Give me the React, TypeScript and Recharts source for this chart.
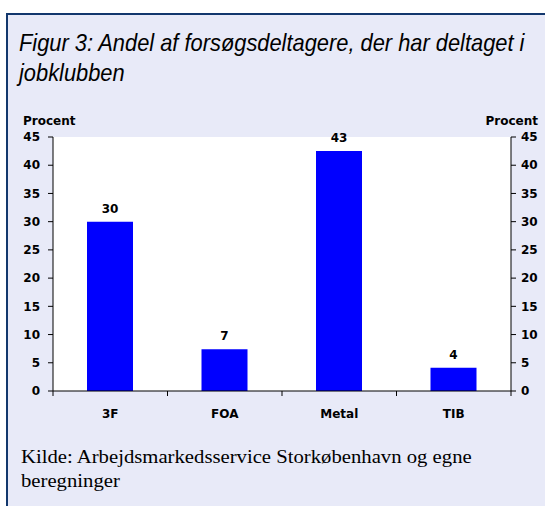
import React from 'react';
import { ComposedChart, Bar, Line, XAxis, YAxis, CartesianGrid, LabelList } from 'recharts';

const categories = ['3F', 'FOA', 'Metal', 'TIB'];
const shares = [30, 7.4, 42.5, 4.1];
const yTicks = [0, 5, 10, 15, 20, 25, 30, 35, 40, 45];

const data = categories.map((name, i) => ({ name, value: shares[i] }));

const boldFont = '"DejaVu Sans", sans-serif';
const tickStyle = { fontFamily: boldFont, fontSize: 12, fontWeight: 700, fill: '#000' };
const LABEL_GAP = 18;

// category label plus tick marks on the band edges (Excel style)
const CategoryTick = (props: any) => {
  const { x, y, payload, index, visibleTicksCount } = props;
  const half = payload.offset || 0;
  const axisY = y - LABEL_GAP;
  const isLast = index === visibleTicksCount - 1;
  return (
    <g>
      <line x1={x - half} x2={x - half} y1={axisY} y2={axisY + 5} stroke="#000" />
      {isLast && <line x1={x + half} x2={x + half} y1={axisY} y2={axisY + 5} stroke="#000" />}
      <text x={x} y={y} dy="0.71em" textAnchor="middle" {...tickStyle}>
        {payload.value}
      </text>
    </g>
  );
};

const App: React.FC = () => {
  return (
    <div style={{ position: 'absolute', left: 0, top: 0, width: 545, height: 506, background: '#fff', overflow: 'hidden' }}>
      <div
        style={{
          position: 'absolute',
          left: 6,
          top: 13,
          width: 539,
          height: 493,
          background: '#e8eaf8',
          borderTop: '2px solid #12376d',
          borderLeft: '2px solid #12376d',
          boxSizing: 'border-box',
        }}
      />
      <div
        style={{
          position: 'absolute',
          left: 19,
          top: 28,
          fontFamily: '"Liberation Sans", Arial, sans-serif',
          fontStyle: 'italic',
          fontSize: 24,
          lineHeight: '30px',
          color: '#000',
          whiteSpace: 'nowrap',
          transform: 'scaleX(0.91)',
          transformOrigin: 'left top',
        }}
      >
        Figur 3: Andel af forsøgsdeltagere, der har deltaget i
        <br />
        jobklubben
      </div>
      <div style={{ position: 'absolute', left: 23, top: 114, fontFamily: boldFont, fontWeight: 700, fontSize: 12, lineHeight: '14px' }}>
        Procent
      </div>
      <div style={{ position: 'absolute', right: 7, top: 114, fontFamily: boldFont, fontWeight: 700, fontSize: 12, lineHeight: '14px' }}>
        Procent
      </div>
      <div style={{ position: 'absolute', left: 0, top: 0 }}>
        <ComposedChart width={545} height={506} data={data} margin={{ top: 137, right: 4, bottom: 85, left: 13 }}>
          <CartesianGrid xAxisId="cat" yAxisId="left" horizontal={false} vertical={false} fill="#ffffff" stroke="none" />
          <XAxis
            xAxisId="cat"
            dataKey="name"
            type="category"
            padding={{ left: 0, right: 0 }}
            axisLine={{ stroke: '#000' }}
            tickLine={false}
            tickSize={0}
            tickMargin={LABEL_GAP}
            tick={<CategoryTick />}
            height={30}
            interval={0}
          />
          <YAxis
            yAxisId="left"
            domain={[0, 45]}
            ticks={yTicks}
            interval={0}
            width={40}
            tickSize={5}
            tickMargin={8}
            axisLine={{ stroke: '#000' }}
            tickLine={{ stroke: '#000' }}
            tick={tickStyle}
          />
          <YAxis
            yAxisId="right"
            orientation="right"
            domain={[0, 45]}
            ticks={yTicks}
            interval={0}
            width={30}
            tickSize={5}
            tickMargin={5}
            axisLine={{ stroke: '#000' }}
            tickLine={{ stroke: '#000' }}
            tick={{ ...tickStyle, textAnchor: 'start' }}
          />
          <Bar xAxisId="cat" yAxisId="left" dataKey="value" fill="#0000ff" barSize={46} isAnimationActive={false}>
            <LabelList
              dataKey="value"
              position="top"
              offset={9}
              formatter={(v: any) => Math.round(Number(v))}
              style={{ fontFamily: boldFont, fontSize: 12, fontWeight: 700, fill: '#000' }}
            />
          </Bar>
          {/* invisible series so the right-hand axis is drawn */}
          <Line
            xAxisId="cat"
            yAxisId="right"
            dataKey="value"
            stroke="none"
            dot={false}
            activeDot={false}
            legendType="none"
            isAnimationActive={false}
          />
        </ComposedChart>
      </div>
      <div
        style={{
          position: 'absolute',
          left: 21,
          top: 445,
          fontFamily: '"Liberation Serif", "Times New Roman", serif',
          fontSize: 18,
          lineHeight: '24px',
          color: '#000',
          whiteSpace: 'nowrap',
          transform: 'scaleX(1.15)',
          transformOrigin: 'left top',
        }}
      >
        Kilde: Arbejdsmarkedsservice Storkøbenhavn og egne
        <br />
        beregninger
      </div>
    </div>
  );
};

export default App;
